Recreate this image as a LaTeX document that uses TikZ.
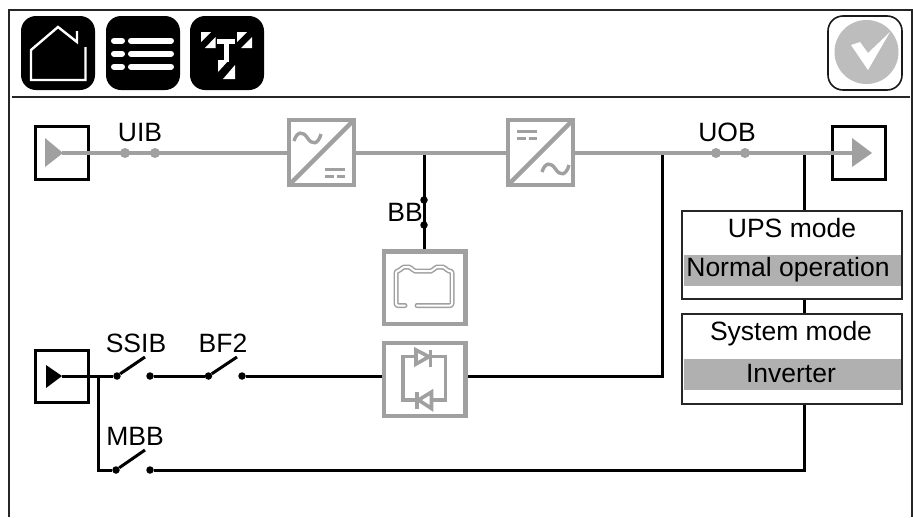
\documentclass[tikz,border=0pt]{standalone}
\usepackage{fontspec}
\setmainfont{Liberation Sans}
\begin{document}
\begin{tikzpicture}[x=1pt,y=-1pt,
  frame/.style={line width=1.8pt,draw=black!85},
  btn/.style={fill=black,rounded corners=15pt},
  icon/.style={draw=white,line width=2.4pt},
  listline/.style={draw=white,line width=6pt,line cap=round},
  gline/.style={draw=flowgray,line width=4.4pt},
  bline/.style={draw=black,line width=3pt},
  gbox/.style={draw=flowgray,line width=4.4pt,fill=white},
  port/.style={draw=black,line width=3pt,fill=white},
  modebox/.style={draw=black!85,line width=1.6pt,fill=white},
  band/.style={fill=bandgray},
  lab/.style={font=\fontsize{26.5}{27}\selectfont,inner sep=0pt,text=black},
  gdot/.style={circle,fill=flowgray,inner sep=0pt,minimum size=10pt},
  bdot/.style={circle,fill=black,inner sep=0pt,minimum size=7.5pt},
  tick/.style={draw=flowgray,line width=3pt},
  scr/.style={draw=flowgray,line width=3.6pt},
  batt/.style={line cap=round,line join=round,rounded corners=2pt}]
\definecolor{flowgray}{HTML}{A0A0A0}
\definecolor{bandgray}{HTML}{B0B0B0}
\definecolor{circgray}{HTML}{BDBDBD}
\useasboundingbox (0,0) rectangle (913,517);
\fill[white] (0,0) rectangle (913,517);
% frame
\draw[frame] (9,517) -- (9,10) -- (912,10) -- (912,517);
\draw[frame] (12,97) -- (910,97);
% buttons
\fill[btn] (21,16) rectangle (95,90);
\draw[icon] (77,31) -- (77,42) -- (58,27) -- (31,50) -- (31,80) -- (85.5,80) -- (85.5,47);
\fill[btn] (106,16) rectangle (180,90);
\foreach \y in {40.7,53.7,66.7}{
  \draw[listline] (114,\y) -- (122,\y);
  \draw[listline] (131,\y) -- (171,\y);
}
\fill[btn] (190,16) rectangle (264,90);
\fill[white] (201,32) -- (211,32) -- (201,42) -- cycle;
\fill[white] (215.5,37) -- (215.5,48) -- (205,48) -- cycle;
\fill[white] (237,32) -- (247,32) -- (237,42) -- cycle;
\fill[white] (252,37) -- (252,48) -- (241,48) -- cycle;
\fill[white] (218,60) -- (229,60) -- (218,72) -- cycle;
\fill[white] (235,65) -- (235,79) -- (223,79) -- cycle;
\fill[white] (217,39) rectangle (235,43.5);
\fill[white] (223.5,39) rectangle (228.5,62);
\draw[black!90,line width=1.6pt,rounded corners=15pt] (828,16) rectangle (902,90);
\fill[circgray] (866.5,52) circle (32);
\fill[white] (851,45) -- (860,42) -- (868,53) -- (890,32) -- (868,70) -- cycle;
% flow nodes
\coordinate (inR) at (62,153);
\coordinate (uib1) at (125,153);
\coordinate (uib2) at (155,153);
\coordinate (conv1) at (289,153);
\coordinate (conv1r) at (354,153);
\coordinate (conv2) at (508,153);
\coordinate (conv2r) at (573,153);
\coordinate (uob1) at (716,153);
\coordinate (uob2) at (745,153);
\coordinate (outT) at (852,153);
\coordinate (bbT) at (424,153);
\coordinate (bbB) at (424,250);
\coordinate (sbyp) at (662,153);
\coordinate (upsT) at (804,153);
% ports
\draw[port] (35,126) rectangle (88,179);
\draw[port] (832,126) rectangle (885,179);
\draw[port] (35,350) rectangle (88,402);
% black lines
\draw[bline] (bbT) -- (bbB);
\node[bdot] (bb1) at (424,200) {};
\node[bdot] (bb2) at (424,225) {};
\draw[bline] (467,376) -- (662,376) -- (sbyp);
\draw[bline] (upsT) -- (804,211);
\draw[bline] (804,299) -- (804,314);
\node[bdot] (ss1) at (117,376) {};
\node[bdot] (ss2) at (150,376) {};
\node[bdot] (bf1) at (208.5,376) {};
\node[bdot] (bf2) at (242,376) {};
\node[bdot] (mb1) at (116,470) {};
\node[bdot] (mb2) at (150,470) {};
\draw[bline] (62,376) -- (ss1);
\draw[bline] (ss1) -- (145,357);
\draw[bline] (ss2) -- (bf1);
\draw[bline] (bf1) -- (237,357);
\draw[bline] (bf2) -- (383,376);
\draw[bline] (98.5,376) -- (98.5,470) -- (mb1);
\draw[bline] (mb1) -- (145,450);
\draw[bline] (mb2) -- (804,470) -- (804,404);
\fill[black] (46,365) -- (46,388) -- (62,376) -- cycle;
% gray flow
\draw[gline] (inR) -- (conv1);
\draw[gline] (conv1r) -- (conv2);
\draw[gline] (conv2r) -- (outT);
\fill[flowgray] (45,138) -- (45,167) -- (63,153) -- cycle;
\fill[flowgray] (852,138) -- (852,167) -- (872,153) -- cycle;
\node[gdot] (u1) at (uib1) {};
\node[gdot] (u2) at (uib2) {};
\node[gdot] (u3) at (uob1) {};
\node[gdot] (u4) at (uob2) {};
% converters
\draw[gbox] (289,120) rectangle (354,185);
\draw[gline] (289,185) -- (354,120);
\draw[tick,line width=3.4pt] (294,141) .. controls (297,131) and (303,131) .. (307.5,138) .. controls (312,145) and (318,145) .. (321,134);
\draw[tick] (325,169) -- (345,169);
\draw[tick] (325,176) -- (333.5,176) (336.5,176) -- (345,176);
\draw[gbox] (508,120) rectangle (573,185);
\draw[gline] (508,185) -- (573,120);
\draw[tick] (517,131) -- (537,131);
\draw[tick] (517,138) -- (525.5,138) (528.5,138) -- (537,138);
\draw[tick,line width=3.4pt] (542,172) .. controls (545,162) and (551,162) .. (555.5,169) .. controls (560,176) and (566,176) .. (569,165);
% battery
\draw[gbox] (384,251.5) rectangle (465.5,324);
\draw[batt,draw=flowgray,line width=5pt] (405,305.5) -- (396,305.5) -- (396,271) -- (400,271) -- (402,267) -- (411,267) -- (413,271) -- (433,271) -- (435,267) -- (445,267) -- (447,271) -- (452,271) -- (452,305.5) -- (417,305.5);
\draw[batt,draw=white,line width=2pt] (405,305.5) -- (396,305.5) -- (396,271) -- (400,271) -- (402,267) -- (411,267) -- (413,271) -- (433,271) -- (435,267) -- (445,267) -- (447,271) -- (452,271) -- (452,305.5) -- (417,305.5);
% scr
\draw[gbox] (384,343) rectangle (465.5,416);
\draw[scr] (416,356.5) -- (403,356.5) -- (403,400) -- (417,400);
\draw[scr] (430,356.5) -- (445.5,356.5) -- (445.5,400) -- (431.5,400);
\draw[scr,fill=white] (416,350) -- (416,364) -- (429,356.7) -- cycle;
\draw[scr] (430.5,349.5) -- (430.5,366.5);
\draw[scr,fill=white] (431.5,392) -- (431.5,408.5) -- (418.5,400) -- cycle;
\draw[scr] (417,392) -- (417,409);
% mode boxes
\draw[modebox] (682,211) rectangle (902,299);
\fill[band] (684,255) rectangle (901,286);
\draw[modebox] (682,314) rectangle (902,404);
\fill[band] (684,359) rectangle (901,390);
% labels
\node[lab] (tuib) at (140,133) {UIB};
\node[lab] (tuob) at (727,132) {UOB};
\node[lab] (tbb) at (405,212) {BB};
\node[lab] (tss) at (136,343) {SSIB};
\node[lab] (tbf) at (223,343) {BF2};
\node[lab] (tmb) at (135,436) {MBB};
\node[lab] (tups) at (792,228) {UPS mode};
\node[lab] (tnorm) at (788,269.5) {Normal operation};
\node[lab] (tsys) at (791,334) {System mode};
\node[lab] (tinv) at (791,374) {Inverter};
\end{tikzpicture}
\end{document}
